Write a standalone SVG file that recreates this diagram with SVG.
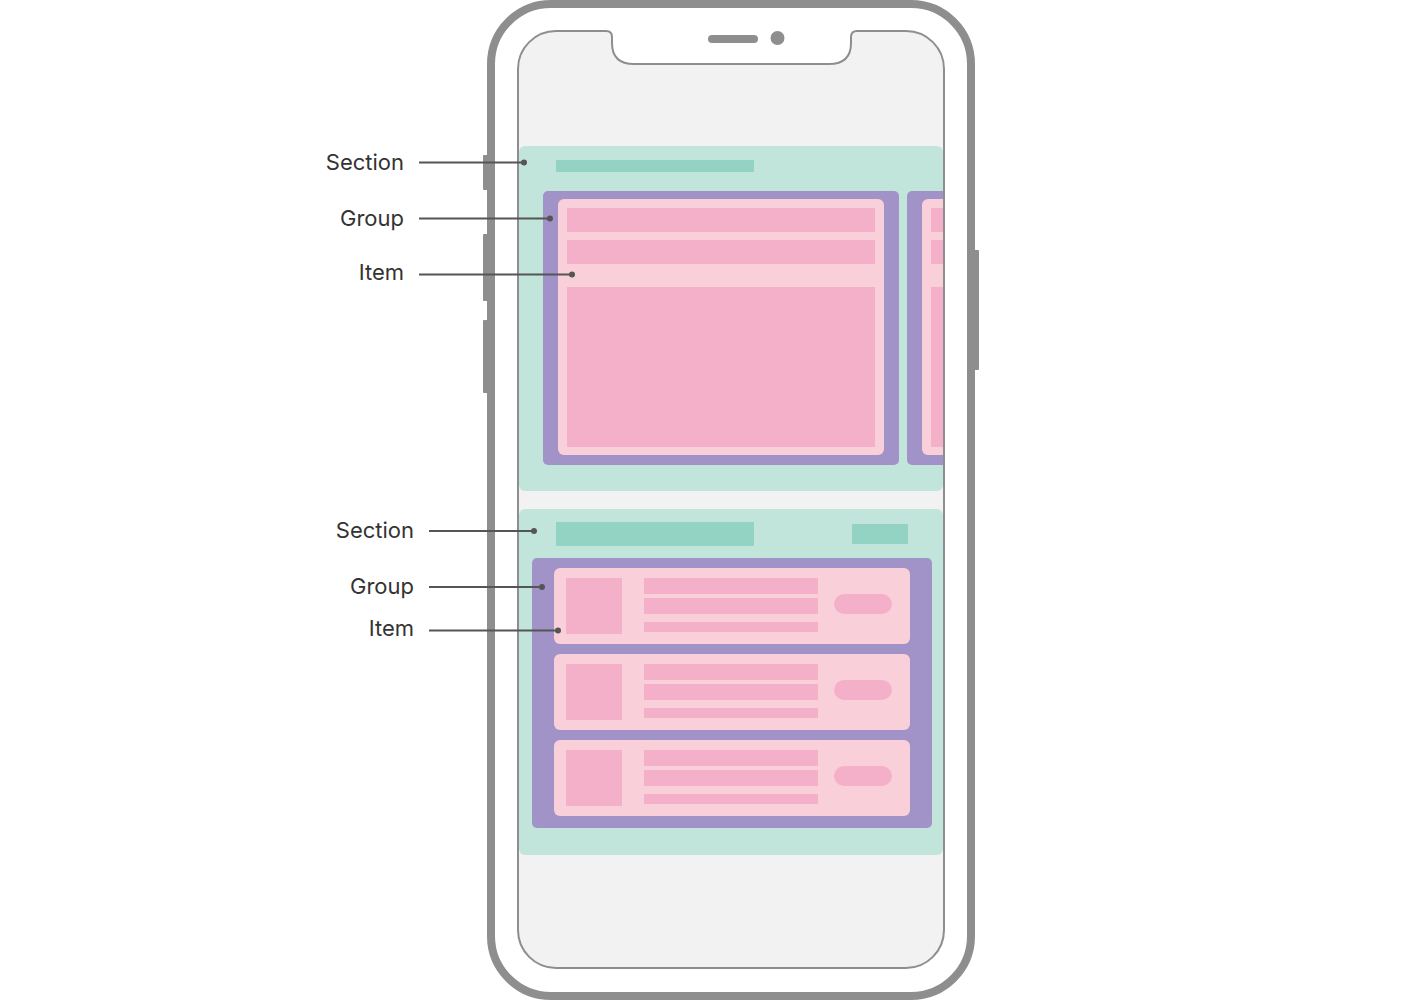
<svg xmlns="http://www.w3.org/2000/svg" width="1420" height="1000" viewBox="0 0 1420 1000">
<style>
.phone{fill:#ffffff;stroke:#8e8e8e;stroke-width:8}
.btn{fill:#8e8e8e}
.screen{fill:#f2f2f2;stroke:#8e8e8e;stroke-width:2}
.sec{fill:#c2e5db}
.sechd{fill:#93d3c3}
.grp{fill:#a193c7}
.item{fill:#f9d0da}
.bar{fill:#f5b0c9}
.lbl{font-family:Inter,"Liberation Sans",sans-serif;font-size:22px;fill:#333333;text-anchor:end}
.ln{stroke:#555555;stroke-width:2;fill:none}
.dot{fill:#555555}
</style>
<defs>
<clipPath id="clipS1"><rect x="519" y="146" width="424" height="345" rx="6"/></clipPath>
</defs>
<g id="phone">
<rect class="btn" x="483" y="155" width="6" height="35" rx="1"/>
<rect class="btn" x="483" y="234" width="6" height="67" rx="1"/>
<rect class="btn" x="483" y="320" width="6" height="73" rx="1"/>
<rect class="btn" x="973" y="250" width="6" height="120" rx="1"/>
<rect class="phone" x="491" y="4" width="480" height="992" rx="60"/>
<path class="screen" d="M556 31 L606 31 Q612 31 612 37 L612 43 Q612 64 634 64 L829 64 Q851 64 851 43 L851 37 Q851 31 857 31 L906 31 A38 38 0 0 1 944 69 L944 930 A38 38 0 0 1 906 968 L556 968 A38 38 0 0 1 518 930 L518 69 A38 38 0 0 1 556 31 Z"/>
<rect class="btn" x="708" y="35" width="50" height="8" rx="4"/>
<circle class="btn" cx="777.5" cy="38" r="7"/>
</g>
<g id="section1">
<rect class="sec" x="519" y="146" width="424" height="345" rx="6"/>
<rect class="sechd" x="556" y="160" width="198" height="12"/>
<g id="group1">
<rect class="grp" x="543" y="191" width="356" height="274" rx="5"/>
<g id="item1">
<rect class="item" x="558" y="199" width="326" height="256" rx="6"/>
<rect class="bar" x="567" y="208" width="308" height="24"/>
<rect class="bar" x="567" y="240" width="308" height="24"/>
<rect class="bar" x="567" y="287" width="308" height="160"/>
</g>
</g>
<g id="group2" clip-path="url(#clipS1)">
<rect class="grp" x="907" y="191" width="80" height="274" rx="5"/>
<rect class="item" x="922" y="199" width="60" height="256" rx="6"/>
<rect class="bar" x="931" y="208" width="40" height="24"/>
<rect class="bar" x="931" y="240" width="40" height="24"/>
<rect class="bar" x="931" y="287" width="40" height="160"/>
</g>
</g>
<g id="section2">
<rect class="sec" x="519" y="509" width="424" height="346" rx="6"/>
<rect class="sechd" x="556" y="522" width="198" height="24"/>
<rect class="sechd" x="852" y="524" width="56" height="20"/>
<g id="group3">
<rect class="grp" x="532" y="558" width="400" height="270" rx="5"/>
<g id="item2">
<rect class="item" x="554" y="568" width="356" height="76" rx="6"/>
<rect class="bar" x="566" y="578" width="56" height="56"/>
<rect class="bar" x="644" y="578" width="174" height="16"/>
<rect class="bar" x="644" y="598" width="174" height="16"/>
<rect class="bar" x="644" y="622" width="174" height="10"/>
<rect class="bar" x="834" y="594" width="58" height="20" rx="10"/>
</g>
<g id="item3">
<rect class="item" x="554" y="654" width="356" height="76" rx="6"/>
<rect class="bar" x="566" y="664" width="56" height="56"/>
<rect class="bar" x="644" y="664" width="174" height="16"/>
<rect class="bar" x="644" y="684" width="174" height="16"/>
<rect class="bar" x="644" y="708" width="174" height="10"/>
<rect class="bar" x="834" y="680" width="58" height="20" rx="10"/>
</g>
<g id="item4">
<rect class="item" x="554" y="740" width="356" height="76" rx="6"/>
<rect class="bar" x="566" y="750" width="56" height="56"/>
<rect class="bar" x="644" y="750" width="174" height="16"/>
<rect class="bar" x="644" y="770" width="174" height="16"/>
<rect class="bar" x="644" y="794" width="174" height="10"/>
<rect class="bar" x="834" y="766" width="58" height="20" rx="10"/>
</g>
</g>
</g>
<g id="connectors">
<line class="ln" x1="419" y1="162.5" x2="524" y2="162.5"/>
<circle class="dot" cx="524" cy="162.5" r="3"/>
<line class="ln" x1="419" y1="218.5" x2="550" y2="218.5"/>
<circle class="dot" cx="550" cy="218.5" r="3"/>
<line class="ln" x1="419" y1="274.5" x2="572" y2="274.5"/>
<circle class="dot" cx="572" cy="274.5" r="3"/>
<line class="ln" x1="429" y1="531" x2="534" y2="531"/>
<circle class="dot" cx="534" cy="531" r="3"/>
<line class="ln" x1="429" y1="587" x2="542" y2="587"/>
<circle class="dot" cx="542" cy="587" r="3"/>
<line class="ln" x1="429" y1="630.5" x2="558" y2="630.5"/>
<circle class="dot" cx="558" cy="630.5" r="3"/>
</g>
<g id="label-section1"><text class="lbl" x="404" y="170">Section</text></g>
<g id="label-group1"><text class="lbl" x="404" y="226">Group</text></g>
<g id="label-item1"><text class="lbl" x="404" y="280">Item</text></g>
<g id="label-section2"><text class="lbl" x="414" y="538">Section</text></g>
<g id="label-group2"><text class="lbl" x="414" y="594">Group</text></g>
<g id="label-item2"><text class="lbl" x="414" y="636">Item</text></g>
</svg>
